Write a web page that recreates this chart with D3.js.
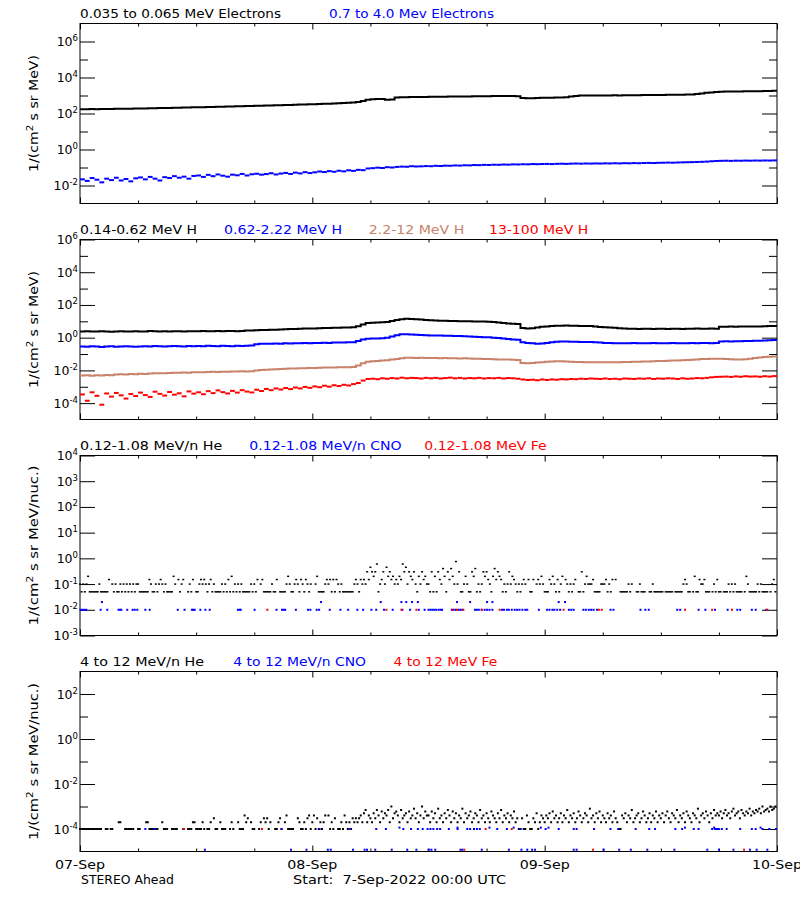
<!DOCTYPE html>
<html><head><meta charset="utf-8">
<script src="https://cdn.jsdelivr.net/npm/d3@7"></script>
<style>body{margin:0;background:#fff}svg{display:block}text{font-family:"DejaVu Sans",sans-serif}</style>
</head><body><svg id="c" width="800" height="900"></svg>
<script>
// ---------------- DATA ----------------
const startUTC = "2022-09-07T00:00:00Z";
const endUTC = "2022-09-10T00:00:00Z";
const dayLabels = ["07-Sep", "08-Sep", "09-Sep", "10-Sep"];

// Panel 1: electrons, 30-min values
const eLow = [174,173,176,175,178,177,180,181,183,184,186,188,
190,192,194,197,199,202,205,208,211,214,217,220,
224,226,230,233,236,240,243,247,250,254,258,263,
269,272,277,281,286,290,295,300,306,312,318,324,
331,338,345,352,360,370,385,400,415,440,500,580,
620,630,630,580,600,770,800,805,815,820,830,835,
840,850,855,860,870,875,880,885,890,900,905,915,
920,925,930,935,940,930,900,720,700,710,715,740,
745,760,770,780,800,880,950,990,1000,995,1005,1010,
1010,1015,1020,1015,1025,1030,1040,1045,1050,1060,1065,1070,
1080,1085,1095,1100,1110,1120,1150,1220,1300,1400,1480,1560,
1640,1660,1670,1680,1690,1700,1720,1730,1740,1760,1790,1820];
const eHigh = [.022,.018,.026,.021,.015,.024,.020,.027,.019,.023,.017,.025,
.028,.022,.030,.024,.019,.029,.026,.033,.027,.031,.024,.034,
.036,.030,.039,.033,.041,.035,.031,.040,.037,.044,.036,.042,
.045,.040,.043,.048,.041,.046,.050,.044,.052,.047,.055,.049,
.054,.060,.056,.063,.058,.066,.061,.070,.065,.074,.071,.088,
.092,.098,.094,.104,.100,.108,.112,.110,.118,.114,.116,.120,
.118,.124,.121,.127,.125,.130,.128,.133,.131,.137,.135,.140,
.138,.143,.141,.146,.144,.149,.147,.152,.150,.155,.153,.156,
.158,.155,.160,.162,.159,.164,.166,.163,.167,.165,.168,.166,
.170,.168,.172,.169,.174,.171,.176,.173,.178,.180,.177,.182,
.184,.187,.185,.190,.193,.196,.199,.203,.207,.212,.222,.230,
.235,.238,.233,.240,.237,.242,.239,.244,.241,.246,.243,.248];

// Panel 2: protons, 30-min values
const hLow = [2.4,2.5,2.4,2.4,2.5,2.4,2.3,2.4,2.5,2.4,2.4,2.5,
2.4,2.4,2.6,2.5,2.4,2.5,2.4,2.5,2.5,2.4,2.5,2.5,
2.5,2.6,2.5,2.5,2.6,2.5,2.6,2.6,2.5,2.6,2.7,2.7,
2.8,2.9,2.9,3.0,3.1,3.2,3.3,3.4,3.4,3.5,3.6,3.6,
3.7,3.8,3.9,3.9,4.0,4.1,4.2,4.2,4.3,5.0,6.5,7.8,
8.2,8.5,8.8,9.2,10.5,12.0,13.5,14.2,14.0,13.6,13.0,12.2,
11.5,11.3,11.0,10.8,10.6,10.5,10.2,10.0,10.1,9.9,9.8,9.6,
9.4,9.0,8.4,7.8,7.4,7.2,6.9,3.9,3.7,3.8,4.2,4.6,
4.9,5.1,5.3,5.4,5.5,5.4,5.3,5.2,5.2,5.1,4.8,4.5,
4.3,4.2,4.0,3.8,3.6,3.5,3.5,3.4,3.5,3.5,3.4,3.5,
3.5,3.4,3.5,3.5,3.4,3.5,3.5,3.6,3.5,3.5,3.6,3.5,
4.6,4.7,4.8,4.7,4.8,4.8,4.9,4.8,4.9,5.0,5.1,5.2];
const hMid = [.29,.28,.30,.29,.27,.29,.30,.28,.29,.30,.29,.28,
.29,.30,.29,.31,.30,.29,.30,.31,.30,.29,.31,.30,
.31,.30,.32,.31,.30,.32,.31,.30,.32,.31,.32,.33,
.40,.42,.43,.42,.44,.43,.45,.44,.46,.45,.47,.46,
.47,.48,.49,.48,.50,.51,.50,.52,.53,.62,.78,.86,
.88,.90,.92,1.0,1.2,1.4,1.6,1.62,1.55,1.5,1.45,1.42,
1.38,1.36,1.35,1.33,1.30,1.28,1.25,1.22,1.18,1.15,1.12,1.08,
1.05,1.00,0.95,0.88,0.82,0.78,0.75,0.52,0.48,0.45,0.43,0.44,
0.48,0.52,0.56,0.59,0.58,0.57,0.56,0.55,0.54,0.55,0.52,0.50,
0.48,0.47,0.46,0.45,0.46,0.45,0.47,0.46,0.45,0.46,0.47,0.46,
0.45,0.46,0.47,0.46,0.45,0.46,0.47,0.46,0.48,0.47,0.46,0.47,
0.58,0.60,0.59,0.61,0.60,0.62,0.63,0.64,0.66,0.68,0.70,0.72];
const hHigh = [.0049,.0050,.0048,.0051,.0049,.0052,.0050,.0056,.0058,.0057,.0060,.0059,
.0062,.0061,.0064,.0066,.0068,.0067,.0070,.0072,.0071,.0074,.0073,.0076,
.0078,.0077,.0080,.0082,.0081,.0084,.0083,.0086,.0085,.0088,.0087,.0089,
.0098,.0105,.0110,.0115,.0118,.0122,.0126,.0130,.0133,.0135,.0137,.0140,
.0142,.0145,.0148,.0150,.0152,.0155,.0157,.0158,.0160,.020,.027,.034,
.036,.038,.040,.042,.046,.050,.056,.059,.060,.058,.059,.057,
.058,.057,.056,.057,.056,.055,.054,.055,.053,.052,.051,.050,
.049,.048,.047,.046,.046,.045,.044,.028,.027,.028,.030,.032,
.034,.035,.036,.036,.035,.034,.033,.033,.032,.032,.031,.032,
.031,.031,.032,.032,.033,.033,.034,.034,.035,.035,.036,.037,
.038,.039,.040,.041,.042,.043,.045,.047,.049,.050,.051,.052,
.051,.050,.048,.047,.047,.048,.052,.058,.062,.066,.069,.071];
const hVHigh = [3.4e-4,1.4e-4,4.6e-4,2.8e-4,0.8e-4,3.9e-4,2.5e-4,4.2e-4,3.0e-4,1.9e-4,3.6e-4,2.7e-4,
4.4e-4,3.1e-4,2.4e-4,5.0e-4,3.7e-4,2.9e-4,4.8e-4,3.3e-4,4.0e-4,2.6e-4,5.2e-4,3.8e-4,
4.6e-4,3.5e-4,5.4e-4,4.1e-4,6.0e-4,4.7e-4,3.9e-4,5.6e-4,4.4e-4,6.2e-4,5.1e-4,4.5e-4,
6.6e-4,5.5e-4,7.4e-4,6.2e-4,7.9e-4,6.8e-4,8.4e-4,7.2e-4,9.0e-4,7.9e-4,9.8e-4,8.6e-4,
1.05e-3,9.4e-4,1.16e-3,1.02e-3,1.24e-3,1.11e-3,1.32e-3,1.20e-3,1.46e-3,1.7e-3,2.4e-3,3.0e-3,
3.1e-3,2.9e-3,3.3e-3,3.1e-3,3.4e-3,3.2e-3,3.6e-3,3.3e-3,3.5e-3,3.4e-3,3.2e-3,3.5e-3,
3.3e-3,3.5e-3,3.2e-3,3.4e-3,3.6e-3,3.3e-3,3.5e-3,3.2e-3,3.4e-3,3.3e-3,3.5e-3,3.2e-3,
3.4e-3,3.3e-3,3.5e-3,3.2e-3,3.4e-3,3.3e-3,3.1e-3,2.8e-3,2.6e-3,2.7e-3,2.5e-3,2.8e-3,
2.6e-3,2.8e-3,2.7e-3,2.9e-3,2.8e-3,3.0e-3,2.9e-3,3.1e-3,3.0e-3,3.2e-3,3.1e-3,3.0e-3,
3.2e-3,3.0e-3,3.1e-3,2.9e-3,3.2e-3,3.1e-3,3.0e-3,3.2e-3,3.1e-3,3.3e-3,3.0e-3,3.2e-3,
3.1e-3,3.3e-3,3.2e-3,3.0e-3,3.3e-3,3.1e-3,3.2e-3,3.4e-3,3.3e-3,3.5e-3,3.8e-3,4.0e-3,
4.1e-3,4.2e-3,4.0e-3,4.3e-3,4.1e-3,4.4e-3,4.2e-3,4.3e-3,4.1e-3,4.4e-3,4.2e-3,4.5e-3];

// Panel 3: 0.12-1.08 MeV/n He, 10-min values (0 = no counts)
const heLowE = [
.1,.05,.1,.05,.1,.2,.05,.05,.05,.05,.05,.05,.1,.05,.05,.05,.05,.05,.15,0,.1,.05,.1,.05,.05,.1,.05,.1,.05,.1,.05,.1,.05,.1,.05,.1,
.1,.05,.05,.05,.05,.05,.05,.15,.1,.05,.05,.1,.05,.1,.15,.1,.05,.1,.05,.05,.05,.05,.2,.1,0,.15,.05,.1,.15,0,0,.05,.1,.05,.15,0,
.05,.05,.1,.15,.1,.15,.1,.05,.1,.15,.05,.1,.05,.05,.05,.05,.1,.05,.1,.05,.15,.05,.2,.05,.1,.05,.1,.05,.1,.05,.05,.05,.05,.05,.1,.05,
.1,.05,.15,0,.1,.15,.05,.05,.05,.05,.05,.1,.05,.05,.15,0,.05,.05,.05,.05,.1,.2,.1,.05,.05,.1,.15,.1,.05,.15,.1,.05,.15,.1,.05,.1,
0,0,.1,.2,.05,.05,.05,.05,.1,.15,.1,.15,.05,.15,.05,.15,.1,.05,.1,.05,.05,.05,.05,.05,.05,.05,.1,.15,.1,.05,.15,.1,.15,.1,.3,.15,
.45,.3,.2,.3,.6,.05,.1,.15,.3,.1,.45,.2,.3,.15,.2,.1,.15,.1,.2,.15,.6,.3,.45,.1,.3,.2,.15,.3,.1,.05,.2,.1,.3,.15,.2,.1,
.1,.05,.3,.05,.2,.05,.3,.15,.1,.4,.2,.05,.3,.15,.4,.2,.1,.75,.1,.3,.05,.05,.1,.2,.1,.05,.05,.3,.2,.4,.05,.1,.05,.1,.3,.2,
.3,.15,.1,.05,.2,.4,.15,.3,.2,.15,.05,.1,.05,.1,.3,.1,.2,.15,.1,.05,.1,.05,.1,.15,.1,0,.15,.05,.05,.15,0,.1,.15,.1,.2,.1,
.05,.05,.05,.15,.1,.2,.1,.05,.15,.05,.1,.2,0,.15,.1,.05,.1,.05,.1,.15,0,.05,.05,.3,.05,.1,.2,.1,.1,.1,.15,.05,.05,.05,.05,.1,
.1,.1,.15,.05,.1,.05,.15,0,.15,0,0,.05,.05,.05,.05,.05,.1,.05,.1,0,0,.05,.05,.1,.05,.05,.05,0,0,.05,.05,.1,.05,.05,.05,.05,
.05,.05,0,.05,.05,.05,.05,.05,0,.05,.05,.05,.05,.05,.1,.15,.1,.05,.05,0,.05,.2,.05,.05,.15,.1,.1,.15,.05,.05,.05,0,.05,.1,.05,.15,
.05,.05,0,.05,.05,.05,.1,.05,.1,.05,.1,.05,.05,.05,.05,0,.05,.2,.1,.05,.05,.05,.05,.05,.1,.05,.1,.05,.05,.05,.05,0,.05,.1,.15,.05];
// Panel 3: CNO and Fe (hours after start, value)
const cnoLowHours = [0.07,0.25,0.45,0.65,2.13,2.82,3.99,4.15,4.27,4.89,5.44,5.65,5.92,6.75,7.2,10.1,10.8,11.57,11.7,11.85,12.43,12.95,13.4,16.32,16.5,16.6,18.04,20.3,20.87,21.05,21.2,22.3,23.55,23.8,24.45,24.7,25.8,26.9,27.7,28.65,29.25,30.1,30.6,31.4,32.3,33.3,34.1,35.0,35.6,
36.0,36.2,36.4,36.6,36.8,37.05,37.25,37.4,38.4,38.6,38.8,39.1,39.3,39.5,40.8,41.0,41.2,41.5,41.8,42.05,42.3,42.6,43.6,43.8,44.1,44.3,44.6,44.9,45.15,45.4,45.7,46.0,46.2,47.4,48.25,48.5,48.8,49.0,49.3,49.6,50.5,50.75,51.0,52.0,52.25,52.55,52.8,53.05,53.4,54.8,55.1,57.9,58.4,58.75,61.7,62.0,63.9,64.6,65.6,66.9,67.9,68.2,69.4,69.8,70.9,
2.27,24.9,31.06,33.2,33.7,34.3,34.9,38.95,40.3,42.05,42.6,49.45,50.1];
const cnoLowValues = [.01,.01,.01,.01,.01,.01,.01,.01,.01,.01,.01,.01,.01,.01,.01,.01,.01,.01,.01,.01,.01,.01,.01,.01,.01,.01,.01,.01,.01,.01,.01,.01,.01,.01,.01,.01,.01,.01,.01,.01,.01,.01,.01,.01,.01,.01,.01,.01,.01,
.01,.01,.01,.01,.01,.01,.01,.01,.01,.01,.01,.01,.01,.01,.01,.01,.01,.01,.01,.01,.01,.01,.01,.01,.01,.01,.01,.01,.01,.01,.01,.01,.01,.01,.01,.01,.01,.01,.01,.01,.01,.01,.01,.01,.01,.01,.01,.01,.01,.01,.01,.01,.01,.01,.01,.01,.01,.01,.01,.01,.01,.01,.01,.01,.01,
.02,.02,.02,.02,.02,.02,.02,.02,.02,.02,.02,.02,.02];
const feLowHours = [19.35,31.65,33.2,34.75,38.5,38.95,39.6,41.5,43.35,49.95,53.6,53.9,62.5,65.3,67.35,71.0];
const feLowValues = [.01,.01,.01,.01,.01,.01,.01,.01,.01,.01,.01,.01,.01,.01,.01,.01];

// Panel 4: 4-12 MeV/n He, 10-min values (0 = no counts)
const heHighE = [
1e-4,1e-4,1e-4,1e-4,1e-4,1e-4,1e-4,1e-4,1e-4,1e-4,1e-4,1e-4,1e-4,1e-4,0,0,1e-4,1e-4,0,1e-4,1e-4,0,0,0,2e-4,2e-4,0,0,1e-4,1e-4,1e-4,1e-4,1e-4,1e-4,0,0,
1e-4,1e-4,0,0,0,2e-4,2e-4,1e-4,1e-4,1e-4,1e-4,1e-4,1e-4,0,0,2e-4,1e-4,1e-4,1e-4,0,0,1e-4,1e-4,1e-4,1e-4,0,0,0,1e-4,0,0,1e-4,1e-4,1e-4,2e-4,2e-4,
1e-4,1e-4,1e-4,1e-4,2e-4,1e-4,0,1e-4,1e-4,2e-4,0,3e-4,1e-4,1e-4,0,2e-4,1e-4,1e-4,1e-4,0,0,1e-4,2e-4,1e-4,0,0,2e-4,1e-4,1e-4,1e-4,4e-4,2e-4,3e-4,0,2e-4,1e-4,
1e-4,0,0,1e-4,2e-4,0,3e-4,2e-4,3e-4,1e-4,2e-4,0,0,1e-4,1e-4,2e-4,3e-4,1e-4,0,2e-4,4e-4,1e-4,1e-4,1e-4,1e-4,0,0,3e-4,2e-4,1e-4,1e-4,2e-4,1e-4,3e-4,4e-4,1e-4,
2e-4,4e-4,1e-4,3e-4,1e-4,2e-4,1e-4,2e-4,4e-4,0,4e-4,1e-4,2e-4,1e-4,3e-4,0,1e-4,1e-4,2e-4,1e-4,4e-4,2e-4,1e-4,2e-4,1e-4,3e-4,2e-4,3e-4,2e-4,3e-4,4e-4,2e-4,5e-4,7e-4,2e-4,4e-4,
3e-4,2e-4,5e-4,3e-4,7e-4,4e-4,2e-4,6e-4,3e-4,5e-4,4e-4,7e-4,2e-4,1e-3,3e-4,5e-4,6e-4,4e-4,2e-4,7e-4,3e-4,4e-4,5e-4,2e-4,6e-4,3e-4,4e-4,8e-4,3e-4,5e-4,2e-4,4e-4,1e-3,3e-4,6e-4,4e-4,
4e-4,2e-4,6e-4,3e-4,5e-4,2e-4,8e-4,3e-4,4e-4,2e-4,5e-4,3e-4,7e-4,4e-4,2e-4,6e-4,3e-4,5e-4,2e-4,4e-4,3e-4,8e-4,2e-4,5e-4,3e-4,4e-4,6e-4,2e-4,3e-4,5e-4,4e-4,2e-4,7e-4,3e-4,4e-4,2e-4,
5e-4,3e-4,2e-4,6e-4,4e-4,3e-4,2e-4,5e-4,3e-4,7e-4,2e-4,4e-4,3e-4,5e-4,2e-4,4e-4,3e-4,6e-4,2e-4,3e-4,1e-4,1e-4,3e-4,1e-4,1e-4,4e-4,2e-4,1e-4,1e-4,3e-4,2e-4,5e-4,1e-4,2e-4,4e-4,3e-4,
2e-4,4e-4,3e-4,5e-4,2e-4,6e-4,3e-4,4e-4,2e-4,3e-4,5e-4,2e-4,4e-4,3e-4,7e-4,2e-4,4e-4,3e-4,5e-4,2e-4,3e-4,6e-4,4e-4,2e-4,3e-4,5e-4,4e-4,2e-4,8e-4,3e-4,4e-4,2e-4,5e-4,3e-4,6e-4,2e-4,
4e-4,3e-4,2e-4,5e-4,3e-4,4e-4,2e-4,6e-4,3e-4,2e-4,1e-4,1e-4,4e-4,3e-4,5e-4,2e-4,4e-4,3e-4,7e-4,2e-4,3e-4,4e-4,5e-4,2e-4,3e-4,6e-4,4e-4,2e-4,3e-4,5e-4,2e-4,4e-4,3e-4,6e-4,2e-4,4e-4,
3e-4,5e-4,2e-4,4e-4,6e-4,3e-4,2e-4,5e-4,4e-4,3e-4,7e-4,2e-4,4e-4,3e-4,5e-4,2e-4,6e-4,4e-4,3e-4,2e-4,5e-4,4e-4,3e-4,8e-4,2e-4,4e-4,5e-4,3e-4,6e-4,4e-4,2e-4,5e-4,3e-4,7e-4,4e-4,5e-4,
4e-4,6e-4,3e-4,5e-4,7e-4,4e-4,5e-4,3e-4,6e-4,8e-4,4e-4,5e-4,6e-4,3e-4,7e-4,5e-4,4e-4,6e-4,5e-4,8e-4,4e-4,6e-4,5e-4,7e-4,6e-4,8e-4,5e-4,1e-3,6e-4,7e-4,8e-4,6e-4,1e-3,7e-4,8e-4,1e-3];
// Panel 4: CNO and Fe (hours after start, value)
const cnoHighHours = [6.75,7.7,20.8,24.75,27.9,30.6,31.6,33.4,34.2,34.9,35.4,35.9,36.2,36.5,36.9,37.2,38.1,39.0,40.0,40.3,40.7,41.0,41.3,43.1,44.1,45.5,48.1,49.45,51.0,51.3,53.1,54.8,55.6,57.4,58.8,59.4,61.5,62.2,63.4,63.9,65.3,65.6,65.8,66.0,66.3,66.8,68.2,69.4,69.8,70.5,71.2,71.9,
33.0,39.0,42.3,44.8,47.6,48.4,62.5,65.5,70.3,
12.9,21.8,23.4,25.6,25.9,28.2,29.4,29.65,30.5,32.2,33.8,34.75,36.0,36.3,36.7,39.3,39.5,41.5,44.3,45.6,46.2,46.7,47.0,51.0,51.3,54.1,55.7,56.9,58.6,61.4,64.8,66.0,67.5,69.2,69.9,71.0];
const cnoHighValues = [1e-4,1e-4,1e-4,1e-4,1e-4,1e-4,1e-4,1e-4,1e-4,1e-4,1e-4,1e-4,1e-4,1e-4,1e-4,1e-4,1e-4,1e-4,1e-4,1e-4,1e-4,1e-4,1e-4,1e-4,1e-4,1e-4,1e-4,1e-4,1e-4,1e-4,1e-4,1e-4,1e-4,1e-4,1e-4,1e-4,1e-4,1e-4,1e-4,1e-4,1e-4,1e-4,1e-4,1e-4,1e-4,1e-4,1e-4,1e-4,1e-4,1e-4,1e-4,1e-4,
1.15e-4,1.15e-4,1.15e-4,1.15e-4,1.15e-4,1.15e-4,1.15e-4,1.15e-4,1.15e-4,
1.2e-5,1.2e-5,1.2e-5,1.2e-5,1.2e-5,1.2e-5,1.2e-5,1.2e-5,1.2e-5,1.2e-5,1.2e-5,1.2e-5,1.2e-5,1.2e-5,1.2e-5,1.2e-5,1.2e-5,1.2e-5,1.2e-5,1.2e-5,1.2e-5,1.2e-5,1.2e-5,1.2e-5,1.2e-5,1.2e-5,1.2e-5,1.2e-5,1.2e-5,1.2e-5,1.2e-5,1.2e-5,1.2e-5,1.2e-5,1.2e-5,1.2e-5];
const feHighHours = [10.75,18.8,41.9,44.6,39.7,53.0,68.6];
const feHighValues = [1e-4,1e-4,1e-4,1e-4,1.2e-5,1.2e-5,1.2e-5];

// Titles
const titles = [
  [["0.035 to 0.065 MeV Electrons","#000"],["0.7 to 4.0 Mev Electrons","#0000ff"]],
  [["0.14-0.62 MeV H","#000"],["0.62-2.22 MeV H","#0000ff"],["2.2-12 MeV H","#c8836a"],["13-100 MeV H","#ff0000"]],
  [["0.12-1.08 MeV/n He","#000"],["0.12-1.08 MeV/n CNO","#0000ff"],["0.12-1.08 MeV Fe","#ff0000"]],
  [["4 to 12 MeV/n He","#000"],["4 to 12 MeV/n CNO","#0000ff"],["4 to 12 MeV Fe","#ff0000"]]
];
const yUnits = ["MeV)", "MeV)", "MeV/nuc.)", "MeV/nuc.)"];

// ---------------- LAYOUT ----------------
const L = 80, R = 777, H = 180;
const panels = [
  {top: 23.5, dom: [1e-3, 1e7], major: [6,4,2,0,-2], minor: [5,3,1,-1], titleX: [[80,201],[329,165]], ylen: 117},
  {top: 239.5, dom: [1e-5, 1e6], major: [6,4,2,0,-2,-4], minor: [5,3,1,-1,-3], titleX: [[80,117],[224,118],[368.7,95.6],[489,99.3]], ylen: 117},
  {top: 455.5, dom: [1e-3, 1e4], major: [4,3,2,1,0,-1,-2,-3], minor: [], titleX: [[80,142.3],[249.3,152.4],[424.3,122.4]], ylen: 160},
  {top: 671.5, dom: [1e-5, 1e3], major: [2,0,-2,-4], minor: [1,-1,-3], titleX: [[80,124],[233.3,132.7],[393.5,103.8]], ylen: 157}
];

const svg = d3.select("#c");
svg.append("rect").attr("width",800).attr("height",900).attr("fill","#fff");
const t0 = new Date(startUTC), t1 = new Date(endUTC);
const x = d3.scaleUtc().domain([t0, t1]).range([L, R]);
const atHours = h => d3.utcMinute.offset(t0, Math.round(h * 60));
const cadence = (i, minutes) => d3.utcMinute.offset(t0, i * minutes);

panels.forEach(p => { p.y = d3.scaleLog().domain(p.dom).range([p.top + H, p.top]); });

function drawAxes(p, pi) {
  const g = svg.append("g");
  const y = p.y;
  const pow = e => Math.pow(10, e);
  const ax = (gen, tx, ty) => g.append("g").attr("transform", `translate(${tx},${ty})`).call(gen)
    .call(s => { s.select(".domain").remove(); s.selectAll("line").attr("stroke","#000"); });
  ax(d3.axisRight(y).tickValues(p.major.map(pow)).tickSize(15).tickFormat(""), L, 0);
  ax(d3.axisLeft(y).tickValues(p.major.map(pow)).tickSize(15).tickFormat(""), R, 0);
  if (p.minor.length) {
    ax(d3.axisRight(y).tickValues(p.minor.map(pow)).tickSize(8).tickFormat(""), L, 0);
    ax(d3.axisLeft(y).tickValues(p.minor.map(pow)).tickSize(8).tickFormat(""), R, 0);
  }
  const six = d3.utcHour.every(6).range(t0, d3.utcHour.offset(t1, 1)).filter(d => d.getUTCHours() !== 0);
  const days = d3.utcDay.range(t0, d3.utcHour.offset(t1, 1));
  ax(d3.axisTop(x).tickValues(six).tickSize(3).tickFormat(""), 0, p.top + H);
  ax(d3.axisTop(x).tickValues(days).tickSize(6).tickFormat(""), 0, p.top + H);
  ax(d3.axisBottom(x).tickValues(six).tickSize(3).tickFormat(""), 0, p.top);
  ax(d3.axisBottom(x).tickValues(days).tickSize(6).tickFormat(""), 0, p.top);
  g.append("rect").attr("x", L).attr("y", p.top).attr("width", R - L).attr("height", H)
    .attr("fill","none").attr("stroke","#000").attr("stroke-width",1);
  p.major.forEach(e => {
    const t = g.append("text").attr("x", 78).attr("y", y(pow(e)) + 4.5)
      .attr("text-anchor","end").attr("font-size", 12.5).attr("fill","#000");
    t.append("tspan").text("10");
    t.append("tspan").attr("dy", -5).attr("font-size", 8.5).text(String(e));
  });
  const cy = p.top + H / 2;
  const yl = g.append("text").attr("transform", `translate(37.5,${cy}) rotate(-90)`)
    .attr("text-anchor","middle").attr("font-size", 12.5).attr("fill","#000")
    .attr("textLength", p.ylen).attr("lengthAdjust", "spacingAndGlyphs");
  yl.append("tspan").text("1/(cm");
  yl.append("tspan").attr("dy", -5).attr("font-size", 9).text("2");
  yl.append("tspan").attr("dy", 5).text(" s sr " + yUnits[pi]);
  titles[pi].forEach((tt, k) => {
    const [tx, tw] = p.titleX[k];
    g.append("text").attr("x", tx).attr("y", p.top - 5.8).attr("font-size", 12)
      .attr("fill", tt[1]).attr("textLength", tw).attr("lengthAdjust","spacingAndGlyphs").text(tt[0]);
  });
}

function drawStep(p, vals, minutes, color) {
  const pts = vals.map((v, i) => ({t: cadence(i, minutes), v}));
  pts.push({t: cadence(vals.length, minutes), v: vals[vals.length - 1]});
  svg.append("path").attr("d", d3.line().x(d => x(d.t)).y(d => p.y(d.v)).curve(d3.curveStepAfter)(pts))
    .attr("fill","none").attr("stroke", color).attr("stroke-width", 2);
}
function drawDashes(p, vals, minutes, color) {
  svg.append("g").selectAll("rect").data(vals.map((v, i) => ({t: cadence(i, minutes), t2: cadence(i + 1, minutes), v})))
    .join("rect").attr("x", d => x(d.t)).attr("width", d => x(d.t2) - x(d.t))
    .attr("y", d => p.y(d.v) - 1).attr("height", 2).attr("fill", color);
}
function drawBins(p, vals, minutes, color, h) {
  const pts = vals.map((v, i) => ({t: cadence(i, minutes), v})).filter(d => d.v > 0);
  svg.append("g").selectAll("rect").data(pts).join("rect")
    .attr("x", d => x(d.t) - 1).attr("width", 2).attr("y", d => p.y(d.v) - h / 2).attr("height", h).attr("fill", color);
}
function drawPairs(p, hours, vals, color, h) {
  const pts = hours.map((hh, i) => ({t: atHours(hh), v: vals[i]}));
  svg.append("g").selectAll("rect").data(pts).join("rect")
    .attr("x", d => x(d.t) - 1).attr("width", 2).attr("y", d => p.y(d.v) - h / 2).attr("height", h).attr("fill", color);
}

panels.forEach((p, pi) => drawAxes(p, pi));

drawStep(panels[0], eLow, 30, "#000");
drawDashes(panels[0], eHigh, 30, "#0000ff");
drawStep(panels[1], hLow, 30, "#000");
drawStep(panels[1], hMid, 30, "#0000ff");
drawStep(panels[1], hHigh, 30, "#c8836a");
drawDashes(panels[1], hVHigh, 30, "#ff0000");
drawBins(panels[2], heLowE, 10, "#000", 1.5);
drawPairs(panels[2], cnoLowHours, cnoLowValues, "#0000ff", 2);
drawPairs(panels[2], feLowHours, feLowValues, "#ff0000", 2);
drawBins(panels[3], heHighE, 10, "#000", 2);
drawPairs(panels[3], cnoHighHours, cnoHighValues, "#0000ff", 2);
drawPairs(panels[3], feHighHours, feHighValues, "#ff0000", 2);

dayLabels.forEach((lab, i) => {
  svg.append("text").attr("x", x(d3.utcDay.offset(t0, i))).attr("y", 868.5).attr("text-anchor","middle")
    .attr("font-size", 12.5).attr("textLength", 50).attr("lengthAdjust","spacingAndGlyphs").text(lab);
});
svg.append("text").attr("x", 81).attr("y", 883.5).attr("font-size", 12.5).attr("textLength", 93)
  .attr("lengthAdjust","spacingAndGlyphs").text("STEREO Ahead");
svg.append("text").attr("x", 293).attr("y", 883.5).attr("font-size", 12.5).attr("textLength", 213)
  .attr("lengthAdjust","spacingAndGlyphs").attr("xml:space","preserve").style("white-space","pre").text("Start:  7-Sep-2022 00:00 UTC");
</script></body></html>
